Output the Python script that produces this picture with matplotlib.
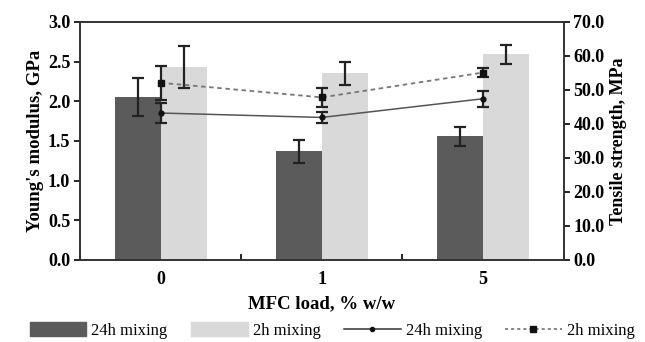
import matplotlib.pyplot as plt
from matplotlib.lines import Line2D
from matplotlib.patches import Patch
import numpy as np

plt.rcParams['font.family'] = ['Liberation Serif', 'DejaVu Serif']

loads = ["0", "1", "5"]
modulus_24h = [2.05, 1.37, 1.56]
modulus_24h_err = [0.24, 0.145, 0.12]
modulus_2h = [2.43, 2.35, 2.59]
modulus_2h_err = [0.26, 0.15, 0.125]
tensile_24h = [43.2, 41.9, 47.4]
tensile_24h_err = [3.0, 1.5, 2.4]
tensile_2h = [52.1, 47.8, 55.1]
tensile_2h_err = [5.0, 2.8, 1.2]

x = np.arange(len(loads))
w = 0.285
dark, light = "#5b5b5b", "#d9d9d9"

fig = plt.figure(figsize=(6.45, 3.42), dpi=100)
ax = fig.add_axes([0.124, 0.24, 0.75, 0.696])
ax2 = ax.twinx()

ekw = dict(ecolor="#222222", elinewidth=1.6, capsize=4, capthick=1.6)
ax.bar(x - w/2, modulus_24h, w, yerr=modulus_24h_err, color=dark, error_kw=ekw)
ax.bar(x + w/2, modulus_2h, w, yerr=modulus_2h_err, color=light, error_kw=ekw)

ax2.errorbar(x, tensile_24h, yerr=tensile_24h_err, color="#555555", lw=1.1,
             marker="o", ms=3.5, mfc="#111111", mec="#111111",
             ecolor="#222222", elinewidth=1.6, capsize=4, capthick=1.6)
ax2.errorbar(x, tensile_2h, yerr=tensile_2h_err, color="#777777", lw=1.3,
             ls=(0, (2.5, 2)), marker="s", ms=5, mfc="#111111", mec="#111111",
             ecolor="#222222", elinewidth=1.6, capsize=4, capthick=1.6)

ax.set_xlim(-0.5, 2.5)
ax.set_ylim(0, 3.0)
ax2.set_ylim(0, 70)
ax.set_yticks(np.arange(0, 3.01, 0.5))
ax.set_yticklabels([f"{v:.1f}" for v in np.arange(0, 3.01, 0.5)])
ax2.set_yticks(np.arange(0, 70.1, 10))
ax2.set_yticklabels([f"{v:.1f}" for v in np.arange(0, 70.1, 10)])

ax.set_xticks([-0.5, 0.5, 1.5, 2.5])
ax.set_xticklabels([])
ax.tick_params(axis="x", which="major", direction="in", length=4, width=1.2)
ax.set_xticks(x, minor=True)
ax.set_xticklabels(loads, minor=True)
ax.tick_params(axis="x", which="minor", length=0, pad=8)

for a in (ax, ax2):
    for s in a.spines.values():
        s.set_linewidth(1.2)
        s.set_color("#333333")
    a.tick_params(axis="y", direction="out", length=4, width=1.2, pad=3)
    for lab in a.get_yticklabels() + a.get_xticklabels(minor=True):
        lab.set_fontsize(13)
        lab.set_fontweight("bold")
ax.set_ylabel("Young's modulus, GPa", fontsize=13.5, fontweight="bold", labelpad=3)
ax2.set_ylabel("Tensile strength, MPa", fontsize=13, fontweight="bold", labelpad=4)
ax.set_xlabel("MFC load, % w/w", fontsize=13.5, fontweight="bold", labelpad=5)

handles = [
    Patch(color=dark),
    Patch(color=light),
    Line2D([], [], color="#333333", lw=1.1, marker="o", ms=3, mfc="#111111", mec="#111111"),
    Line2D([], [], color="#666666", lw=1.1, ls=(0, (2, 2)), marker="s", ms=4.5,
           mfc="#111111", mec="#111111"),
]
labels = ["24h mixing", "2h mixing", "24h mixing", "2h mixing"]
fig.legend(handles, labels, loc="lower center", ncol=4, frameon=False,
           fontsize=12, bbox_to_anchor=(0.515, -0.035), handlelength=3.4,
           handleheight=0.9, columnspacing=1.4, handletextpad=0.3)

fig.savefig("out.png", dpi=100)
